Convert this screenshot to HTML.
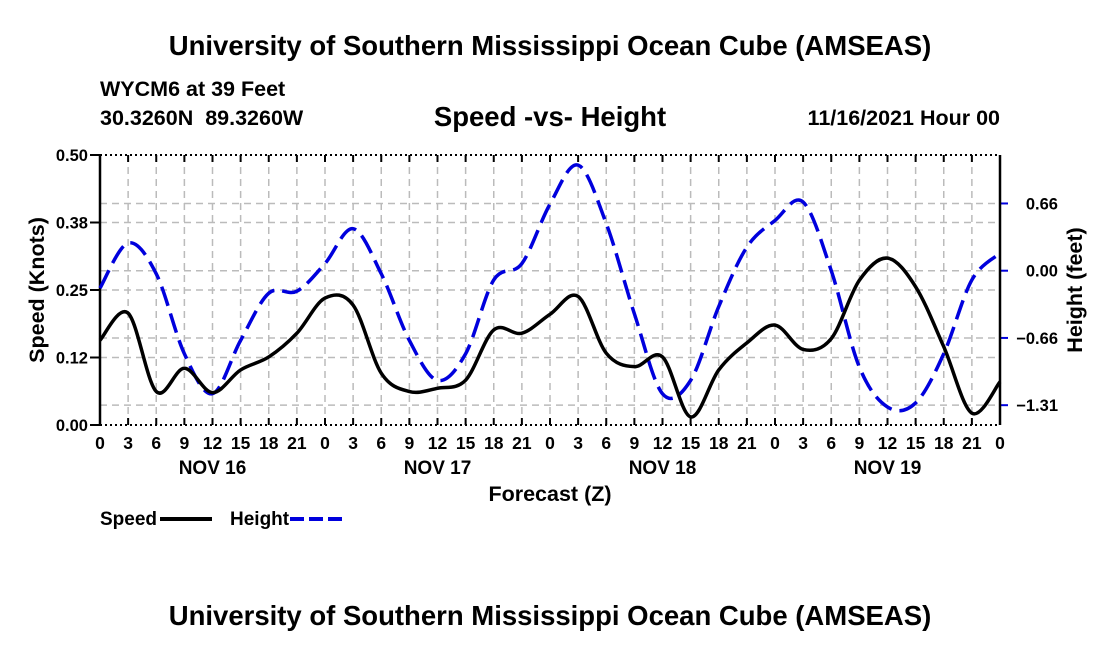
<!DOCTYPE html>
<html><head><meta charset="utf-8"><style>
body{margin:0;background:#fff;}
svg{display:block;font-family:"Liberation Sans",Arial,sans-serif;font-weight:bold;}
</style></head><body>
<svg id="chart" width="1100" height="650" xmlns="http://www.w3.org/2000/svg">
<text x="550" y="55" font-size="27.5" text-anchor="middle">University of Southern Mississippi Ocean Cube (AMSEAS)</text>
<text x="100" y="96" font-size="21.5">WYCM6 at 39 Feet</text>
<text x="100" y="125" font-size="21.5" xml:space="preserve">30.3260N  89.3260W</text>
<text x="550" y="126" font-size="27.5" text-anchor="middle">Speed -vs- Height</text>
<text x="1000" y="125" font-size="21.5" text-anchor="end">11/16/2021 Hour 00</text>
<g id="grid"></g>
<g id="axes"></g>
<g id="series"></g>
<text transform="translate(44,290) rotate(-90)" font-size="21.5" text-anchor="middle">Speed (Knots)</text>
<text transform="translate(1082,290) rotate(-90)" font-size="21.5" text-anchor="middle">Height (feet)</text>
<text x="550" y="501" font-size="21.5" text-anchor="middle">Forecast (Z)</text>
<g>
<text x="100" y="525" font-size="19">Speed</text>
<line x1="160" y1="519" x2="212" y2="519" stroke="#000" stroke-width="4"/>
<text x="230" y="525" font-size="19">Height</text>
<line x1="290" y1="519" x2="342" y2="519" stroke="#0000dd" stroke-width="4" stroke-dasharray="14,5"/>
</g>
<text x="550" y="625" font-size="27.5" text-anchor="middle">University of Southern Mississippi Ocean Cube (AMSEAS)</text>
</svg>
<script>
const hours=[0,3,6,9,12,15,18,21,24,27,30,33,36,39,42,45,48,51,54,57,60,63,66,69,72,75,78,81,84,87,90,93,96];
const speed=[0.157,0.207,0.062,0.105,0.06,0.102,0.126,0.17,0.235,0.222,0.096,0.062,0.068,0.083,0.176,0.17,0.205,0.238,0.133,0.108,0.126,0.015,0.102,0.152,0.185,0.14,0.16,0.268,0.309,0.256,0.145,0.022,0.08];
const height=[-0.17,0.27,-0.03,-0.81,-1.2,-0.68,-0.22,-0.2,0.07,0.41,-0.03,-0.68,-1.07,-0.81,-0.09,0.07,0.65,1.03,0.46,-0.42,-1.2,-1.07,-0.35,0.23,0.49,0.67,0.0,-0.94,-1.33,-1.29,-0.81,-0.09,0.17];
const speedTicks=[0,0.125,0.25,0.375,0.5];
const speedTickLabels=["0.00","0.12","0.25","0.38","0.50"];
const heightTicks=[-1.312,-0.656,0,0.656];
const heightTickLabels=["\u22121.31","\u22120.66","0.00","0.66"];
const dayLabels=["NOV 16","NOV 17","NOV 18","NOV 19"];
const X0=100,X1=1000,Y0=425,Y1=155;
const xs=h=>X0+(h/96)*(X1-X0);
const ys=s=>Y0-(s/0.5)*(Y0-Y1);
const yh=h=>270.7-h*102.5;
const NS="http://www.w3.org/2000/svg";
function mk(tag,attrs,parent,text){const e=document.createElementNS(NS,tag);for(const k in attrs)e.setAttribute(k,attrs[k]);if(text!==undefined)e.textContent=text;parent.appendChild(e);return e;}
const grid=document.getElementById('grid'),axes=document.getElementById('axes'),series=document.getElementById('series');
for(let i=0;i<hours.length;i++){const x=xs(hours[i]);
 if(i>0&&i<hours.length-1){const g=mk('line',{x1:x,y1:Y1,x2:x,y2:Y0,stroke:'#bbb','stroke-width':1.5,'stroke-dasharray':'7,5'},grid);
 
 }
 const t=mk('line',{x1:x,y1:Y0,x2:x,y2:Y0-7,stroke:'#000','stroke-width':2},axes);
 
 
 const t2=mk('line',{x1:x,y1:Y1,x2:x,y2:Y1+7,stroke:'#000','stroke-width':2},axes);
 
 
 const l=mk('text',{x:x,y:Y0+24,'font-size':17.5,'text-anchor':'middle'},axes,String(hours[i]%24));
 
 }
dayLabels.forEach((d,i)=>{const l=mk('text',{x:xs(12+24*i),y:474,'font-size':19,'text-anchor':'middle'},axes,d);
 
 });
speedTicks.forEach((v,i)=>{const y=ys(v);
 if(i>0&&i<speedTicks.length-1){const g=mk('line',{x1:X0,y1:y,x2:X1,y2:y,stroke:'#bbb','stroke-width':1.5,'stroke-dasharray':'7,5'},grid);
 
 }
 const t=mk('line',{x1:X0-10,y1:y,x2:X0,y2:y,stroke:'#000','stroke-width':2},axes);
 
 
 const l=mk('text',{x:X0-12,y:y+6,'font-size':16.5,'text-anchor':'end'},axes,speedTickLabels[i]);
 
 });
heightTicks.forEach((v,i)=>{const y=yh(v);
 const g=mk('line',{x1:X0,y1:y,x2:X1,y2:y,stroke:'#bbb','stroke-width':1.5,'stroke-dasharray':'7,5'},grid);
 
 
 const t=mk('line',{x1:X1,y1:y,x2:X1+8,y2:y,stroke:'#0000dd','stroke-width':2},axes);
 
 
 const l=mk('text',{x:1058,y:y+6,'font-size':16.5,'text-anchor':'end'},axes,heightTickLabels[i]);
 
 });
[[X0,Y1,X1,Y1,'top-border','2,3'],[X0,Y0,X1,Y0,'bottom-border','2,3']].forEach(a=>{const e=mk('line',{x1:a[0],y1:a[1],x2:a[2],y2:a[3],stroke:'#000','stroke-width':2,'stroke-dasharray':a[5]},axes);
 
 });
const la=mk('line',{x1:X0,y1:Y1,x2:X0,y2:Y0,stroke:'#000','stroke-width':2.5},axes);


const ra=mk('line',{x1:X1,y1:Y1,x2:X1,y2:Y0,stroke:'#000','stroke-width':2.5},axes);


function smooth(pts){let d=`M${pts[0][0]},${pts[0][1]}`;for(let i=0;i<pts.length-1;i++){const p0=pts[Math.max(0,i-1)],p1=pts[i],p2=pts[i+1],p3=pts[Math.min(pts.length-1,i+2)];
 d+=` C${p1[0]+(p2[0]-p0[0])/6},${p1[1]+(p2[1]-p0[1])/6} ${p2[0]-(p3[0]-p1[0])/6},${p2[1]-(p3[1]-p1[1])/6} ${p2[0]},${p2[1]}`;}return d;}
const hp=mk('path',{d:smooth(hours.map((h,i)=>[xs(h),yh(height[i])])),fill:'none',stroke:'#0000dd','stroke-width':3.5,'stroke-dasharray':'20,8'},series);


const sp=mk('path',{d:smooth(hours.map((h,i)=>[xs(h),ys(speed[i])])),fill:'none',stroke:'#000','stroke-width':3.5},series);


</script>
</body></html>
